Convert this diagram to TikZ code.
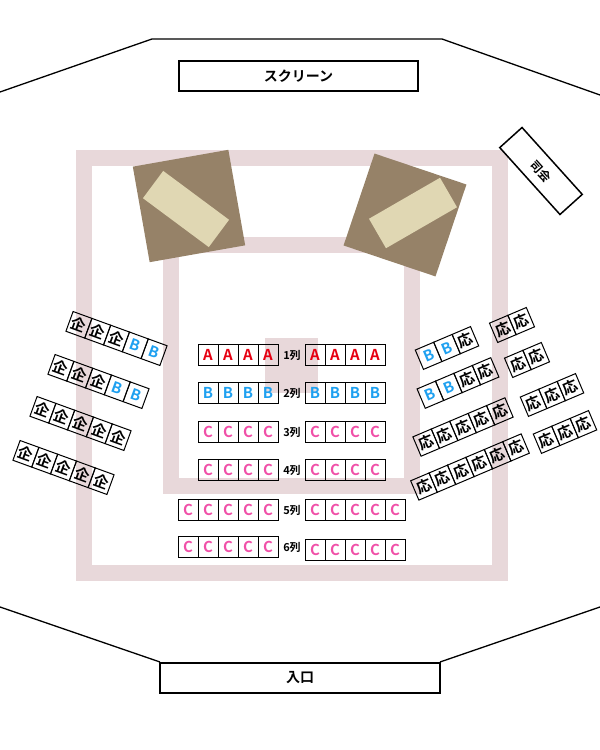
\documentclass[tikz,border=0pt]{standalone}
\usepackage{fontspec}
\newfontfamily\cjk{Noto Sans CJK JP}[BoldFont={* Bold}]
\definecolor{band}{HTML}{E8D8DA}
\definecolor{stdark}{HTML}{968268}
\definecolor{stlight}{HTML}{E0D7B3}
\definecolor{colA}{HTML}{E60012}
\definecolor{colB}{HTML}{1EA0F0}
\definecolor{colC}{HTML}{F050A8}
\tikzset{
  seat/.style={draw, line width=1pt, minimum width=20pt, minimum height=21pt, inner sep=0pt, transform shape, font=\cjk\bfseries\fontsize{15}{15}\selectfont},
  rowlbl/.style={font=\cjk\bfseries\fontsize{11}{11}\selectfont, inner sep=0pt},
  wall/.style={line width=1.3pt},
  bandline/.style={draw=band, line width=16pt},
}
\newcommand\A{\textcolor{colA}{A}}
\newcommand\B{\textcolor{colB}{B}}
\newcommand\C{\textcolor{colC}{C}}
\newcommand\sgroup[6]{%
  \begin{scope}[shift={(#2,750-#3)},rotate=#4]
    \foreach \t [count=\i] in {#6}{\node[seat] (#1-\i) at ({(\i-(#5+1)/2)*20},0) {\t};}
  \end{scope}}
\begin{document}
\begin{tikzpicture}[x=1pt,y=1pt]
\useasboundingbox (0,0) rectangle (600,750);
% bands
\draw[bandline] (84,750-158) rectangle (500,750-573);
\draw[bandline] (171,750-245) rectangle (412,750-486);
\fill[band] (265,750-338) rectangle (318,750-393);
% walls
\draw[wall] (0,750-92) -- (152,750-39) -- (442,750-39) -- (600,750-95);
\draw[wall] (0,750-607) -- (160,750-662);
\draw[wall] (600,750-607) -- (440,750-662);
\node[draw, line width=1.5pt, minimum width=239pt, minimum height=30pt, font=\cjk\bfseries\fontsize{14}{14}\selectfont] (screen) at (298.5,750-76) {スクリーン};
\node[draw, line width=1.5pt, minimum width=280pt, minimum height=30pt, font=\cjk\bfseries\fontsize{14}{14}\selectfont] (entrance) at (300,750-678) {入口};
\node[draw, line width=1.5pt, fill=white, minimum width=90pt, minimum height=30pt, rotate=-48, inner sep=1pt, font=\cjk\bfseries\fontsize{12}{12}\selectfont] (mc) at (541,750-171) {司会};
% stages
\node[fill=stdark, minimum width=97pt, minimum height=97pt, rotate=10] (stL) at (189,750-206) {};
\node[fill=stlight, minimum width=82pt, minimum height=34pt, rotate=-36.6] (tbL) at (186,750-209) {};
\node[fill=stdark, minimum width=97pt, minimum height=97pt, rotate=-18.6] (stR) at (405,750-215) {};
\node[fill=stlight, minimum width=82pt, minimum height=34pt, rotate=30] (tbR) at (413,750-213) {};
% center rows
\sgroup{r1l}{238}{355}{0}{4}{\A,\A,\A,\A}
\sgroup{r1r}{345}{355}{0}{4}{\A,\A,\A,\A}
\sgroup{r2l}{238}{393}{0}{4}{\B,\B,\B,\B}
\sgroup{r2r}{345}{393}{0}{4}{\B,\B,\B,\B}
\sgroup{r3l}{238}{432}{0}{4}{\C,\C,\C,\C}
\sgroup{r3r}{345}{432}{0}{4}{\C,\C,\C,\C}
\sgroup{r4l}{238}{470}{0}{4}{\C,\C,\C,\C}
\sgroup{r4r}{345}{470}{0}{4}{\C,\C,\C,\C}
\sgroup{r5l}{228}{510}{0}{5}{\C,\C,\C,\C,\C}
\sgroup{r5r}{355}{510}{0}{5}{\C,\C,\C,\C,\C}
\sgroup{r6l}{228}{547}{0}{5}{\C,\C,\C,\C,\C}
\sgroup{r6r}{355}{550}{0}{5}{\C,\C,\C,\C,\C}
\node[rowlbl] (l1) at (292,750-355) {1列};
\node[rowlbl] (l2) at (292,750-393) {2列};
\node[rowlbl] (l3) at (292,750-432) {3列};
\node[rowlbl] (l4) at (292,750-470) {4列};
\node[rowlbl] (l5) at (292,750-510) {5列};
\node[rowlbl] (l6) at (292,750-547) {6列};
% left tilted
\sgroup{g1}{116.5}{338.5}{-20}{5}{企,企,企,\B,\B}
\sgroup{g2}{98.5}{381.5}{-20}{5}{企,企,企,\B,\B}
\sgroup{g3}{80.5}{423.5}{-20}{5}{企,企,企,企,企}
\sgroup{g4}{63.5}{467.5}{-20}{5}{企,企,企,企,企}
% right tilted
\sgroup{h1}{447}{348}{23}{3}{\B,\B,応}
\sgroup{h2}{512}{325}{23}{2}{応,応}
\sgroup{h3}{458}{383}{23}{4}{\B,\B,応,応}
\sgroup{h4}{527}{360}{23}{2}{応,応}
\sgroup{h5}{463}{427}{23}{5}{応,応,応,応,応}
\sgroup{h6}{552}{395}{23}{3}{応,応,応}
\sgroup{h7}{470}{467}{23}{6}{応,応,応,応,応,応}
\sgroup{h8}{565}{432}{23}{3}{応,応,応}
\end{tikzpicture}
\end{document}
